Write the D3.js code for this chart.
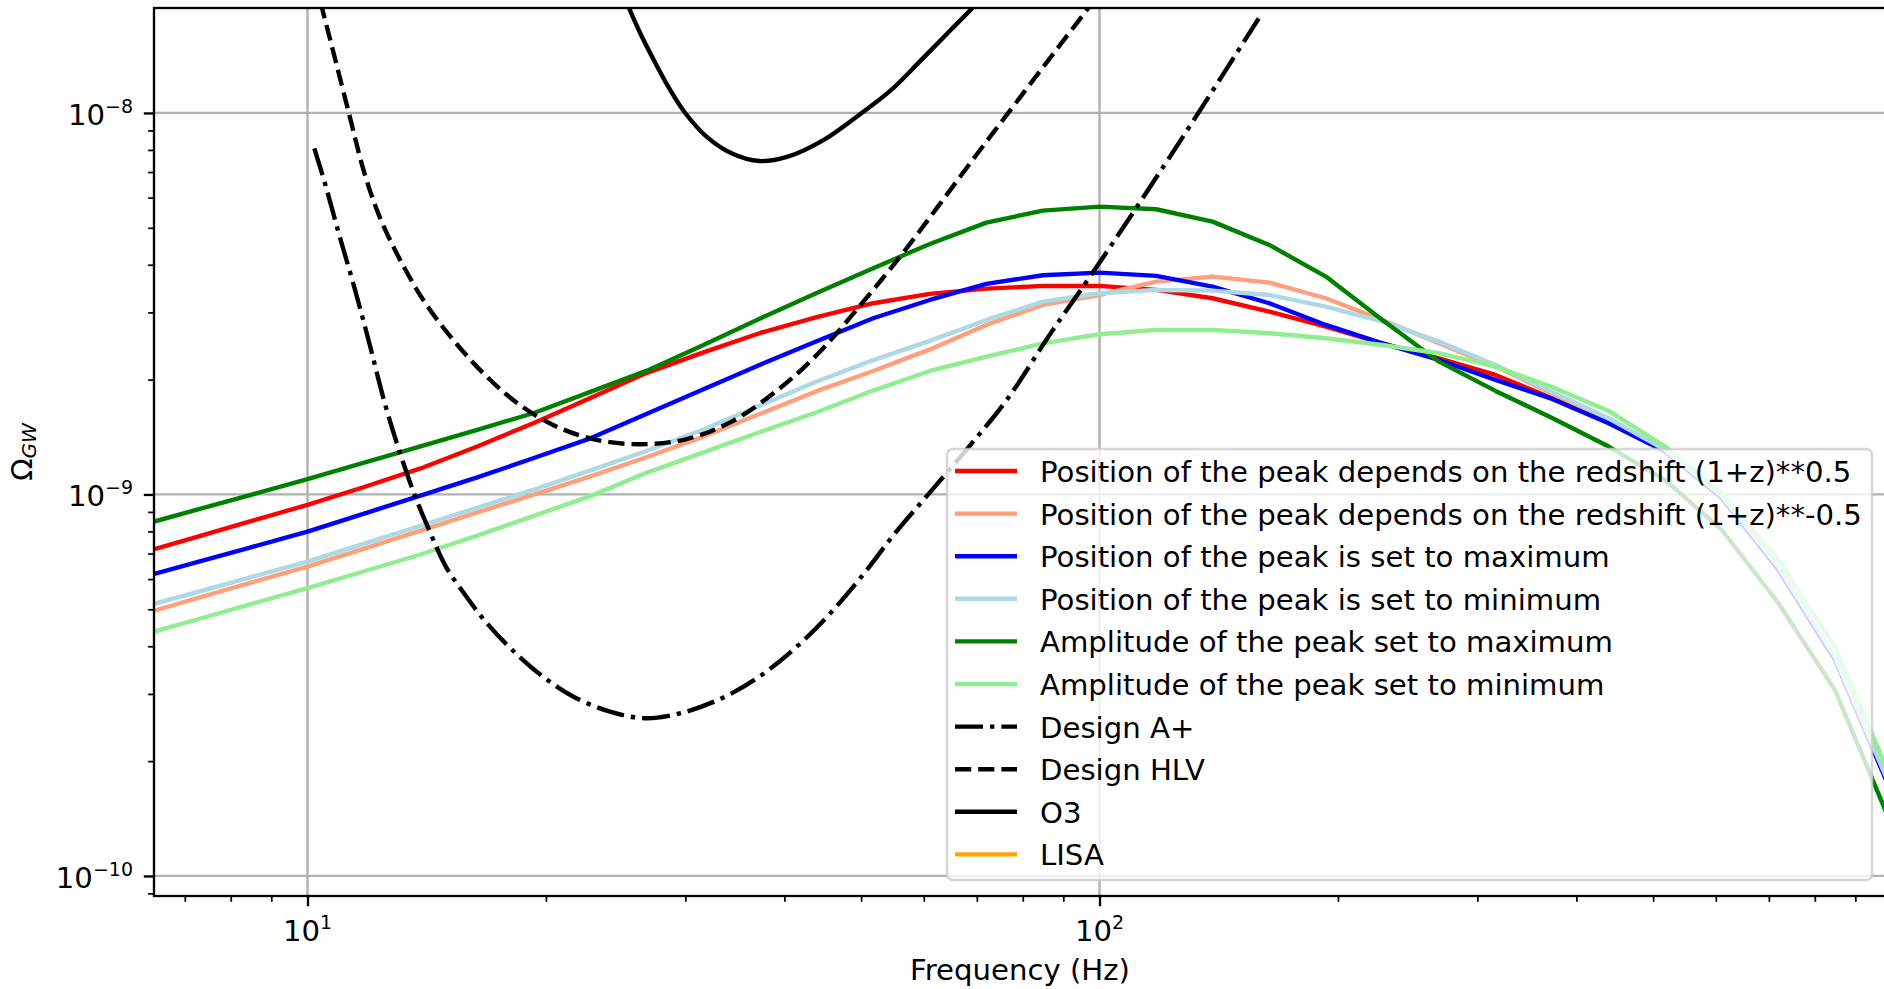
<!DOCTYPE html>
<html>
<head>
<meta charset="utf-8">
<script src="https://cdn.jsdelivr.net/npm/d3@7"></script>
<style>
  html, body { margin: 0; padding: 0; background: #ffffff; }
  svg { display: block; font-family: "DejaVu Sans", sans-serif; }
</style>
</head>
<body>
<svg id="chart" width="1884" height="989"></svg>
<script>
// Frequencies (Hz) at which the model spectra are evaluated
const freqHz = [6.105, 7.197, 8.483, 10.0, 11.79, 13.89, 16.38, 19.31, 22.76, 26.83, 31.62,
  37.28, 43.94, 51.79, 61.05, 71.97, 84.83, 100.0, 117.9, 138.9, 163.8, 193.1, 227.6, 268.3,
  316.2, 372.8, 439.4, 517.9, 610.5, 719.7, 848.3, 1000.0];

// Omega_GW for each model variant
const peakRedshiftPlus = [6.98e-10, 7.71e-10, 8.51e-10, 9.39e-10, 1.046e-9, 1.170e-9, 1.336e-9,
  1.539e-9, 1.791e-9, 2.083e-9, 2.357e-9, 2.650e-9, 2.917e-9, 3.171e-9, 3.354e-9, 3.463e-9,
  3.520e-9, 3.520e-9, 3.436e-9, 3.268e-9, 3.015e-9, 2.754e-9, 2.490e-9, 2.275e-9, 2.057e-9,
  1.788e-9, 1.549e-9, 1.300e-9, 9.85e-10, 6.38e-10, 3.71e-10, 1.66e-10];
const peakRedshiftMinus = [4.82e-10, 5.32e-10, 5.87e-10, 6.47e-10, 7.21e-10, 8.04e-10, 8.97e-10,
  9.99e-10, 1.115e-9, 1.254e-9, 1.418e-9, 1.627e-9, 1.865e-9, 2.106e-9, 2.40e-9, 2.782e-9,
  3.139e-9, 3.333e-9, 3.613e-9, 3.724e-9, 3.592e-9, 3.268e-9, 2.867e-9, 2.490e-9, 2.163e-9,
  1.842e-9, 1.568e-9, 1.300e-9, 9.82e-10, 6.38e-10, 3.71e-10, 1.66e-10];
const peakPositionMax = [6.02e-10, 6.62e-10, 7.27e-10, 7.99e-10, 8.91e-10, 9.93e-10, 1.108e-9,
  1.246e-9, 1.403e-9, 1.627e-9, 1.886e-9, 2.188e-9, 2.522e-9, 2.897e-9, 3.234e-9, 3.563e-9,
  3.755e-9, 3.814e-9, 3.739e-9, 3.505e-9, 3.171e-9, 2.782e-9, 2.490e-9, 2.252e-9, 1.996e-9,
  1.780e-9, 1.537e-9, 1.295e-9, 9.77e-10, 6.34e-10, 3.68e-10, 1.65e-10];
const peakPositionMin = [5.03e-10, 5.52e-10, 6.07e-10, 6.67e-10, 7.43e-10, 8.28e-10, 9.23e-10,
  1.030e-9, 1.156e-9, 1.302e-9, 1.480e-9, 1.711e-9, 1.978e-9, 2.250e-9, 2.526e-9, 2.867e-9,
  3.202e-9, 3.368e-9, 3.436e-9, 3.421e-9, 3.333e-9, 3.107e-9, 2.838e-9, 2.515e-9, 2.185e-9,
  1.856e-9, 1.584e-9, 1.308e-9, 9.91e-10, 6.46e-10, 3.75e-10, 1.68e-10];
const peakAmplitudeMax = [8.26e-10, 9.08e-10, 9.98e-10, 1.097e-9, 1.211e-9, 1.336e-9, 1.477e-9,
  1.635e-9, 1.857e-9, 2.111e-9, 2.466e-9, 2.892e-9, 3.371e-9, 3.916e-9, 4.536e-9, 5.158e-9,
  5.545e-9, 5.680e-9, 5.592e-9, 5.189e-9, 4.508e-9, 3.724e-9, 2.867e-9, 2.229e-9, 1.868e-9,
  1.587e-9, 1.335e-9, 1.091e-9, 8.07e-10, 5.19e-10, 3.07e-10, 1.36e-10];
const peakAmplitudeMin = [4.25e-10, 4.68e-10, 5.16e-10, 5.68e-10, 6.29e-10, 6.96e-10, 7.80e-10,
  8.79e-10, 9.90e-10, 1.141e-9, 1.289e-9, 1.458e-9, 1.642e-9, 1.872e-9, 2.107e-9, 2.297e-9,
  2.490e-9, 2.630e-9, 2.699e-9, 2.699e-9, 2.646e-9, 2.567e-9, 2.465e-9, 2.345e-9, 2.163e-9,
  1.913e-9, 1.655e-9, 1.335e-9, 1.007e-9, 6.73e-10, 3.99e-10, 1.785e-10];

// Detector sensitivity curves (power-law integrated)
const aplusFreq = [10.20, 10.55, 10.95, 11.45, 11.97, 12.52, 13.09, 13.68, 14.30, 14.95, 15.87,
  16.84, 18.14, 19.83, 21.67, 24.04, 26.67, 29.58, 33.31, 36.96, 41.02, 45.50, 50.47, 55.17,
  61.20, 68.43, 76.35, 86.77, 98.6, 113.0, 133.2, 160.5];
const aplusOmega = [8.08e-9, 6.41e-9, 4.84e-9, 3.51e-9, 2.49e-9, 1.734e-9, 1.282e-9, 9.87e-10,
  7.91e-10, 6.47e-10, 5.40e-10, 4.60e-10, 3.91e-10, 3.33e-10, 2.95e-10, 2.70e-10, 2.59e-10,
  2.67e-10, 2.92e-10, 3.30e-10, 3.91e-10, 4.83e-10, 6.22e-10, 7.91e-10, 1.017e-9, 1.335e-9,
  1.769e-9, 2.646e-9, 3.88e-9, 5.92e-9, 9.98e-9, 1.83e-8];
const hlvFreq = [10.22, 10.44, 10.71, 11.28, 11.80, 12.33, 13.09, 14.09, 15.40, 16.84, 18.41,
  20.42, 22.99, 26.28, 30.03, 34.31, 39.24, 44.17, 49.72, 56.0, 62.5, 69.7, 77.8, 86.8, 96.8, 103.1];
const hlvOmega = [2.23e-8, 1.87e-8, 1.523e-8, 9.98e-9, 6.95e-9, 5.35e-9, 4.12e-9, 3.17e-9,
  2.49e-9, 2.036e-9, 1.734e-9, 1.521e-9, 1.395e-9, 1.354e-9, 1.395e-9, 1.552e-9, 1.879e-9,
  2.345e-9, 3.107e-9, 4.20e-9, 5.68e-9, 7.70e-9, 1.040e-8, 1.402e-8, 1.884e-8, 2.245e-8];
const o3Freq = [24.6, 25.5, 26.3, 27.5, 28.7, 30.0, 31.9, 34.3, 37.2, 40.4, 44.8, 49.7, 54.4,
  59.4, 64.7, 69.0, 73.8];
const o3Omega = [2.23e-8, 1.87e-8, 1.62e-8, 1.35e-8, 1.149e-8, 9.98e-9, 8.67e-9, 7.84e-9,
  7.48e-9, 7.68e-9, 8.49e-9, 9.88e-9, 1.142e-8, 1.369e-8, 1.640e-8, 1.879e-8, 2.19e-8];
// LISA lies at mHz frequencies, outside this band
const lisaFreq = [];
const lisaOmega = [];

// Legend labels
const seriesLabels = [
  "Position of the peak depends on the redshift (1+z)**0.5",
  "Position of the peak depends on the redshift (1+z)**-0.5",
  "Position of the peak is set to maximum",
  "Position of the peak is set to minimum",
  "Amplitude of the peak set to maximum",
  "Amplitude of the peak set to minimum",
  "Design A+",
  "Design HLV",
  "O3",
  "LISA"
];

// Axis ticks
const xMajorTicks = [10, 100];
const xTickExponents = ["1", "2"];
const yMajorTicks = [1e-10, 1e-9, 1e-8];
const yTickExponents = ["\u221210", "\u22129", "\u22128"];

// ---------------------------------------------------------------
const PT = 210 / 72;      // pixels per point
const FS = 10 * PT;       // base font size
const LW = 1.5 * PT;      // line width
const plot = { left: 154, top: 8, right: 1886, bottom: 896 };

const x = d3.scaleLog().domain([6.4, 984]).range([plot.left, plot.right]);
const y = d3.scaleLog().domain([8.86e-11, 1.884e-8]).range([plot.bottom, plot.top]);

const svg = d3.select("#chart");
svg.append("rect").attr("width", 1884).attr("height", 989).attr("fill", "#ffffff");

svg.append("defs").append("clipPath").attr("id", "plot-clip")
  .append("rect")
  .attr("x", plot.left).attr("y", plot.top)
  .attr("width", plot.right - plot.left).attr("height", plot.bottom - plot.top);

// Minor tick positions
const xMinor = [];
[1, 10, 100].forEach(d => { for (let m = 2; m <= 9; m++) xMinor.push(m * d); });
const xMinorVis = xMinor.filter(v => v >= 6.4 && v <= 984 && !xMajorTicks.includes(v));
const yMinor = [];
[1e-11, 1e-10, 1e-9].forEach(d => { for (let m = 2; m <= 9; m++) yMinor.push(m * d); });
const yMinorVis = yMinor.filter(v => v >= 8.86e-11 && v <= 1.884e-8);

// Grid
const grid = svg.append("g").attr("clip-path", "url(#plot-clip)");
grid.selectAll("line.gx").data(xMajorTicks).join("line")
  .attr("x1", d => x(d)).attr("x2", d => x(d))
  .attr("y1", plot.top).attr("y2", plot.bottom)
  .attr("stroke", "#b0b0b0").attr("stroke-width", 0.8 * PT);
grid.selectAll("line.gy").data(yMajorTicks).join("line")
  .attr("x1", plot.left).attr("x2", plot.right)
  .attr("y1", d => y(d)).attr("y2", d => y(d))
  .attr("stroke", "#b0b0b0").attr("stroke-width", 0.8 * PT);

// Curves
const curves = svg.append("g").attr("clip-path", "url(#plot-clip)");
const modelLine = d3.line().x(d => x(d[0])).y(d => y(d[1]));
const smoothLine = d3.line().x(d => x(d[0])).y(d => y(d[1])).curve(d3.curveCatmullRom.alpha(0.5));

const series = [
  { values: peakRedshiftPlus, color: "red" },
  { values: peakRedshiftMinus, color: "lightsalmon" },
  { values: peakPositionMax, color: "blue" },
  { values: peakPositionMin, color: "lightblue" },
  { values: peakAmplitudeMax, color: "green" },
  { values: peakAmplitudeMin, color: "lightgreen" }
];
series.forEach(s => {
  curves.append("path")
    .datum(freqHz.map((f, i) => [f, s.values[i]]))
    .attr("d", modelLine)
    .attr("fill", "none").attr("stroke", s.color)
    .attr("stroke-width", LW).attr("stroke-linejoin", "round");
});

const DASHDOT = [6.4, 1.6, 1, 1.6].map(v => v * LW).join(",");
const DASHED = [3.7, 1.6].map(v => v * LW).join(",");
const detectors = [
  { f: aplusFreq, o: aplusOmega, dash: DASHDOT, color: "black" },
  { f: hlvFreq, o: hlvOmega, dash: DASHED, color: "black" },
  { f: o3Freq, o: o3Omega, dash: null, color: "black" },
  { f: lisaFreq, o: lisaOmega, dash: null, color: "orange" }
];
detectors.forEach(dt => {
  if (!dt.f.length) return;
  const p = curves.append("path")
    .datum(dt.f.map((f, i) => [f, dt.o[i]]))
    .attr("d", smoothLine)
    .attr("fill", "none").attr("stroke", dt.color)
    .attr("stroke-width", LW).attr("stroke-linejoin", "round");
  if (dt.dash) p.attr("stroke-dasharray", dt.dash);
});

// Axes ticks
const axisG = svg.append("g");
const xAxisMajor = axisG.append("g").attr("transform", `translate(0,${plot.bottom})`)
  .call(d3.axisBottom(x).tickValues(xMajorTicks).tickSize(3.5 * PT).tickFormat(""));
const xAxisMinor = axisG.append("g").attr("transform", `translate(0,${plot.bottom})`)
  .call(d3.axisBottom(x).tickValues(xMinorVis).tickSize(2 * PT).tickFormat(""));
const yAxisMajor = axisG.append("g").attr("transform", `translate(${plot.left},0)`)
  .call(d3.axisLeft(y).tickValues(yMajorTicks).tickSize(3.5 * PT).tickFormat(""));
const yAxisMinor = axisG.append("g").attr("transform", `translate(${plot.left},0)`)
  .call(d3.axisLeft(y).tickValues(yMinorVis).tickSize(2 * PT).tickFormat(""));
[xAxisMajor, xAxisMinor, yAxisMajor, yAxisMinor].forEach(g => g.select(".domain").remove());
[xAxisMajor, yAxisMajor].forEach(g => g.selectAll(".tick line").attr("stroke", "#000").attr("stroke-width", 0.8 * PT));
[xAxisMinor, yAxisMinor].forEach(g => g.selectAll(".tick line").attr("stroke", "#000").attr("stroke-width", 0.6 * PT));

// Spines
axisG.append("rect")
  .attr("x", plot.left).attr("y", plot.top)
  .attr("width", plot.right - plot.left).attr("height", plot.bottom - plot.top)
  .attr("fill", "none").attr("stroke", "#000").attr("stroke-width", 0.8 * PT);

// Tick labels as powers of ten
const labels = svg.append("g").attr("fill", "#000");
xMajorTicks.forEach((v, i) => {
  const t = labels.append("text")
    .attr("x", x(v)).attr("y", 940.5)
    .attr("text-anchor", "middle").attr("font-size", FS);
  t.append("tspan").text("10");
  t.append("tspan").attr("dy", -12).attr("font-size", 19).text(xTickExponents[i]);
});
yMajorTicks.forEach((v, i) => {
  const t = labels.append("text")
    .attr("x", 133).attr("y", y(v) + 12)
    .attr("text-anchor", "end").attr("font-size", FS);
  t.append("tspan").text("10");
  t.append("tspan").attr("dy", -12).attr("font-size", 19).text(yTickExponents[i]);
});

// Axis titles
labels.append("text")
  .attr("x", (plot.left + plot.right) / 2).attr("y", 980)
  .attr("text-anchor", "middle").attr("font-size", FS)
  .text("Frequency (Hz)");
const yl = labels.append("text")
  .attr("transform", `translate(32,${(plot.top + plot.bottom) / 2}) rotate(-90)`)
  .attr("text-anchor", "middle").attr("font-size", FS);
yl.append("tspan").text("\u03A9");
yl.append("tspan").attr("dy", 4).attr("font-size", 20).attr("font-style", "italic").text("GW");

// Legend
const legendColors = ["red", "lightsalmon", "blue", "lightblue", "green", "lightgreen", "black", "black", "black", "orange"];
const legendDash = [null, null, null, null, null, null, DASHDOT, DASHED, null, null];
const leg = svg.append("g");
leg.append("rect")
  .attr("x", 947).attr("y", 449).attr("width", 925).attr("height", 431)
  .attr("rx", 0.2 * FS).attr("ry", 0.2 * FS)
  .attr("fill", "#ffffff").attr("fill-opacity", 0.8)
  .attr("stroke", "#cccccc").attr("stroke-opacity", 0.8).attr("stroke-width", 2.5);
seriesLabels.forEach((lab, i) => {
  const ry = 471 + i * 42.6;
  const ln = leg.append("line")
    .attr("x1", 955).attr("x2", 1017).attr("y1", ry).attr("y2", ry)
    .attr("stroke", legendColors[i]).attr("stroke-width", LW);
  if (legendDash[i]) ln.attr("stroke-dasharray", legendDash[i]);
  leg.append("text")
    .attr("x", 1040).attr("y", ry + 11)
    .attr("font-size", FS).attr("fill", "#000")
    .text(lab);
});
</script>
</body>
</html>
